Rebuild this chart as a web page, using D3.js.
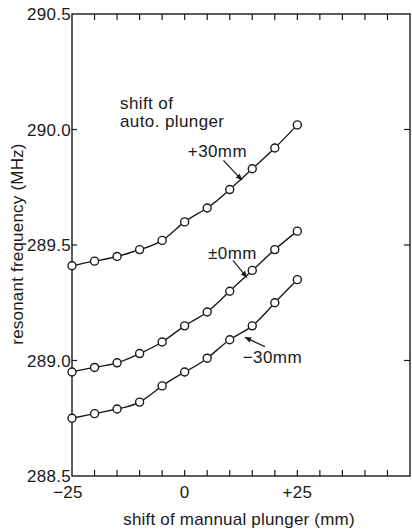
<!DOCTYPE html>
<html>
<head>
<meta charset="utf-8">
<script src="https://cdn.jsdelivr.net/npm/d3@7"></script>
<style>
  body { margin: 0; background: #fff; }
  svg { display: block; }
  text { font-family: "Liberation Sans", Arial, sans-serif; fill: #1a1a1a; }
</style>
</head>
<body>
<svg width="412" height="532"></svg>
<script>
/* Data */

var shifts = [-25, -20, -15, -10, -5, 0, 5, 10, 15, 20, 25];

var plus30 = [289.41, 289.43, 289.45, 289.48, 289.52, 289.60, 289.66, 289.74, 289.83, 289.92, 290.02];
var zero   = [288.95, 288.97, 288.99, 289.03, 289.08, 289.15, 289.21, 289.30, 289.39, 289.48, 289.56];
var minus30 = [288.75, 288.77, 288.79, 288.82, 288.89, 288.95, 289.01, 289.09, 289.15, 289.25, 289.35];

var xTicks = [-25, 0, 25];
var xTickLabels = ["\u221225", "0", "+25"];
var xMinor = [-20, -15, -10, -5, 0, 5, 10, 15, 20, 25, 30, 35, 40, 45];
var yTicks = [288.5, 289.0, 289.5, 290.0, 290.5];

var seriesNames = ["+30mm", "\u00b10mm", "\u221230mm"];

/* Setup */

var svg = d3.select("svg");
// "top" is taken by window.top, so plot edges get their own names
var padL = 72, padR = 410, padT = 14, padB = 476;

var x = d3.scaleLinear().domain([-25, 50]).range([padL, padR]);
var y = d3.scaleLinear().domain([288.5, 290.5]).range([padB, padT]);

var ink = "#1a1a1a";
var fs = 17;

svg.append("defs").append("marker")
    .attr("id", "arrow")
    .attr("viewBox", "0 0 10 10")
    .attr("refX", 9).attr("refY", 5)
    .attr("markerWidth", 7).attr("markerHeight", 7)
    .attr("markerUnits", "userSpaceOnUse")
    .attr("orient", "auto")
  .append("path")
    .attr("d", "M0,1 L10,5 L0,9 Z")
    .attr("fill", ink);

/* Frame */

svg.append("rect")
    .attr("x", padL).attr("y", padT)
    .attr("width", padR - padL).attr("height", padB - padT)
    .attr("fill", "none").attr("stroke", ink).attr("stroke-width", 1.4);

// ticks pointing inward on every side
var frame = svg.append("g").attr("stroke", ink).attr("stroke-width", 1.2);
frame.selectAll(".tb").data(xMinor).enter().append("line")
    .attr("x1", (d) => x(d)).attr("x2", (d) => x(d))
    .attr("y1", padB).attr("y2", padB - 6);
frame.selectAll(".tt").data(xMinor).enter().append("line")
    .attr("x1", (d) => x(d)).attr("x2", (d) => x(d))
    .attr("y1", padT).attr("y2", padT + 6);
var innerY = yTicks.slice(1, -1);
frame.selectAll(".tl").data(innerY).enter().append("line")
    .attr("x1", padL).attr("x2", padL + 5)
    .attr("y1", (d) => y(d)).attr("y2", (d) => y(d));
frame.selectAll(".tr").data(innerY).enter().append("line")
    .attr("x1", padR).attr("x2", padR - 6)
    .attr("y1", (d) => y(d)).attr("y2", (d) => y(d));

/* Tick labels */

svg.selectAll(".ylab").data(yTicks).enter().append("text")
    .attr("x", padL - 1)
    .attr("y", (d) => y(d) + 6)
    .attr("text-anchor", "end")
    .attr("font-size", fs)
    .attr("letter-spacing", 0.3)
    .text((d) => d.toFixed(1));

svg.selectAll(".xlab").data(xTicks).enter().append("text")
    .attr("x", (d, i) => x(d) - (i === 0 ? 4 : 0))
    .attr("y", padB + 22)
    .attr("text-anchor", "middle")
    .attr("font-size", fs)
    .attr("letter-spacing", 0.3)
    .text((d, i) => xTickLabels[i]);

/* Axis titles */

svg.append("text")
    .attr("x", 239).attr("y", 525)
    .attr("text-anchor", "middle")
    .attr("font-size", fs)
    .attr("letter-spacing", 0.2)
    .text("shift of mannual plunger (mm)");

svg.append("text")
    .attr("transform", "translate(23,244) rotate(-90)")
    .attr("text-anchor", "middle")
    .attr("font-size", fs)
    .attr("letter-spacing", 0.2)
    .text("resonant frequency (MHz)");

/* Series */

var series = [plus30, zero, minus30].map((vals, i) => ({
  name: seriesNames[i],
  points: shifts.map((s, j) => ({x: s, y: vals[j]}))
}));

var line = d3.line()
    .x((d) => x(d.x))
    .y((d) => y(d.y))
    .curve(d3.curveNatural);

svg.selectAll(".curve").data(series).enter().append("path")
    .attr("d", (d) => line(d.points))
    .attr("fill", "none")
    .attr("stroke", ink)
    .attr("stroke-width", 1.4);

series.forEach((s) => {
  svg.selectAll(null).data(s.points).enter().append("circle")
      .attr("cx", (d) => x(d.x))
      .attr("cy", (d) => y(d.y))
      .attr("r", 4)
      .attr("fill", "#fff")
      .attr("stroke", ink)
      .attr("stroke-width", 1.4);
});

/* Annotations (data units) */

var notes = [
  {text: "+30mm", tx: 0.7, ty: 289.88, ax: 8.6, ay: 289.866, bx: 12.7, by: 289.781},
  {text: "\u00b10mm", tx: 5.2, ty: 289.44, ax: 10.7, ay: 289.433, bx: 13.8, by: 289.36},
  {text: "\u221230mm", tx: 12.9, ty: 288.99, ax: 17.8, ay: 289.06, bx: 13.4, by: 289.10}
];

svg.selectAll(".note").data(notes).enter().append("text")
    .attr("x", (d) => x(d.tx))
    .attr("y", (d) => y(d.ty))
    .attr("font-size", fs)
    .attr("letter-spacing", 0.4)
    .text((d) => d.text);

svg.selectAll(".arrow").data(notes).enter().append("line")
    .attr("x1", (d) => x(d.ax)).attr("y1", (d) => y(d.ay))
    .attr("x2", (d) => x(d.bx)).attr("y2", (d) => y(d.by))
    .attr("stroke", ink).attr("stroke-width", 1.2)
    .attr("marker-end", "url(#arrow)");

svg.append("text")
    .attr("x", x(-14.35)).attr("y", y(290.09))
    .attr("font-size", fs)
    .attr("letter-spacing", 0.4)
    .text("shift of");

svg.append("text")
    .attr("x", x(-14.35)).attr("y", y(290.01))
    .attr("font-size", fs)
    .attr("letter-spacing", 0.4)
    .text("auto. plunger");
</script>
</body>
</html>
